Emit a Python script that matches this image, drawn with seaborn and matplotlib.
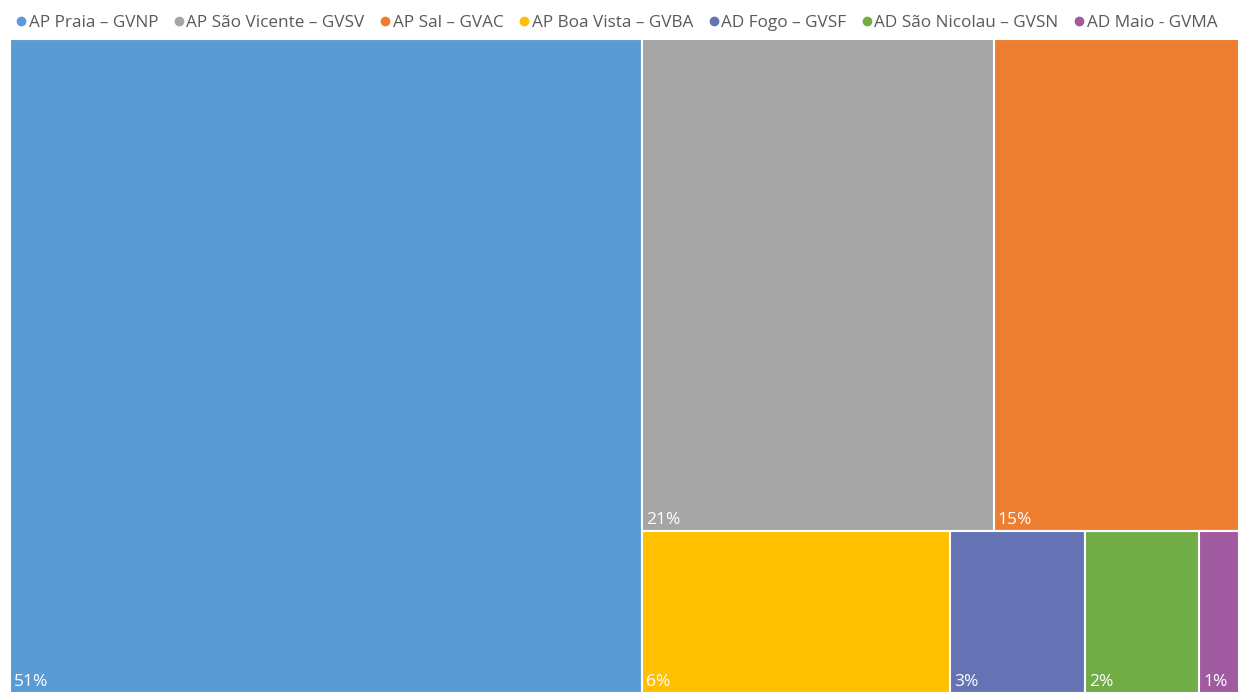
import matplotlib
matplotlib.use("Agg")
import matplotlib.pyplot as plt
from matplotlib.patches import Rectangle
from matplotlib.lines import Line2D
import seaborn as sns

categories = ["AP Praia – GVNP", "AP São Vicente – GVSV", "AP Sal – GVAC",
              "AP Boa Vista – GVBA", "AD Fogo – GVSF", "AD São Nicolau – GVSN",
              "AD Maio - GVMA"]
values = [51.3, 21.5, 15.0, 6.2, 2.7, 2.3, 0.8]
labels = ["51%", "21%", "15%", "6%", "3%", "2%", "1%"]
colors = ["#5B9BD5", "#A5A5A5", "#ED7D31", "#FFC000", "#6573B5", "#70AD47", "#A05AA0"]

sns.set_theme(style="white")
plt.rcParams['font.family'] = ['Open Sans', 'DejaVu Sans']

fig = plt.figure(figsize=(12.39, 6.93), dpi=100)
ax = fig.add_axes([10/1239, 0, 1 - 10/1239, 654/693])
ax.set_xlim(0, 1)
ax.set_ylim(0, 1)
ax.axis("off")

total = sum(values)
# layout: first item full-height column, then top row (items 1-2), bottom row (rest)
rects = []
w0 = values[0] / total
rects.append((0, 0, w0, 1))
rest = total - values[0]
top = values[1] + values[2]
bottom = rest - top
h_top = top / rest
h_bot = 1 - h_top
x = w0
for v in values[1:3]:
    w = (v / top) * (1 - w0)
    rects.append((x, h_bot, w, h_top))
    x += w
x = w0
for v in values[3:]:
    w = (v / bottom) * (1 - w0)
    rects.append((x, 0, w, h_bot))
    x += w

for (rx, ry, rw, rh), c, lab in zip(rects, colors, labels):
    ax.add_patch(Rectangle((rx, ry), rw, rh, facecolor=c, edgecolor="white", linewidth=1.5))
    ax.annotate(lab, (rx, ry), xytext=(3, 2.0), textcoords="offset points",
                ha="left", va="bottom", color="white", fontsize=12.5)

handles = [Line2D([0], [0], marker="o", linestyle="", markersize=6,
                  markerfacecolor=c, markeredgecolor=c) for c in colors]
fig.legend(handles, categories, loc="upper center", bbox_to_anchor=(0.497, 1.0),
           ncol=7, frameon=False, fontsize=12.3, handletextpad=0.05,
           columnspacing=0.8, handlelength=0.8, labelcolor="#595959")

fig.savefig("out.png", dpi=100)
